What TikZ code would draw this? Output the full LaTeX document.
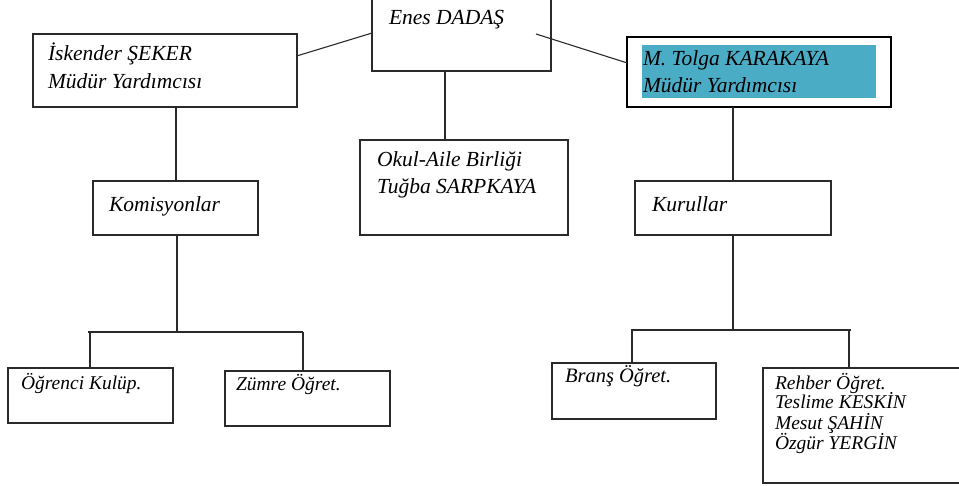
\documentclass[tikz,border=0pt]{standalone}
\usepackage{fontspec}
\setmainfont{Liberation Serif}
\usetikzlibrary{calc}
\definecolor{tealfill}{HTML}{4BACC6}
\definecolor{linegray}{HTML}{2A2A2A}
\newcommand\mytightlines{\lineskiplimit=-30pt\lineskip=0pt\relax}
\tikzset{
  box/.style={draw=linegray, line width=1.1pt, fill=white, inner sep=0pt, outer sep=0pt},
  thickbox/.style={draw=black, line width=2.2pt, fill=white, inner sep=0pt, outer sep=0pt},
  conn/.style={draw=linegray, line width=1.1pt},
  txt/.style={inner sep=0pt, outer sep=0pt, anchor=base west, align=left, font=\fontsize{21.5}{27}\selectfont\itshape\mytightlines},
  widetxt/.style={txt, font=\fontsize{21.5}{28.5}\selectfont\itshape\mytightlines},
  midtxt/.style={txt, font=\fontsize{20.5}{20}\selectfont\itshape\mytightlines},
  smalltxt/.style={txt, font=\fontsize{19.5}{20}\selectfont\itshape\mytightlines}
}
\begin{document}
\begin{tikzpicture}[x=1pt,y=-1pt]
\useasboundingbox (0,0) rectangle (959,486);
% boxes
\node[box, minimum width=179pt, minimum height=73pt] (enes) at (461.5,34.5) {};
\node[box, minimum width=264pt, minimum height=73pt] (isk) at (165,70.5) {};
\node[thickbox, minimum width=264pt, minimum height=70pt] (tolga) at (759,72) {};
\node[fill=tealfill, inner sep=0pt, minimum width=234pt, minimum height=53pt] (tolgafill) at (759,71.5) {};
\node[box, minimum width=208pt, minimum height=95pt] (okul) at (464,187.5) {};
\node[box, minimum width=165pt, minimum height=54pt] (komis) at (175.5,208) {};
\node[box, minimum width=196pt, minimum height=54pt] (kurul) at (733,208) {};
\node[box, minimum width=165pt, minimum height=55pt] (ogr) at (90.5,395.5) {};
\node[box, minimum width=165pt, minimum height=55pt] (zumre) at (307.5,398.5) {};
\node[box, minimum width=164pt, minimum height=56pt] (brans) at (634,391) {};
\node[box, minimum width=207pt, minimum height=115pt] (rehber) at (866.5,425.5) {};
% texts (base anchor = baseline of last line)
\node[txt] (tenes) at (389,25) {Enes DADAŞ};
\node[widetxt] (tisk) at (48,89) {İskender ŞEKER\\Müdür Yardımcısı};
\node[txt] (ttolga) at (643,93) {M. Tolga KARAKAYA\\Müdür Yardımcısı};
\node[txt] (tokul) at (377,194) {Okul-Aile Birliği\\Tuğba SARPKAYA};
\node[txt] (tkomis) at (109,212) {Komisyonlar};
\node[txt] (tkurul) at (652,212) {Kurullar};
\node[smalltxt] (togr) at (21,389) {Öğrenci Kulüp.};
\node[smalltxt] (tzumre) at (236,391) {Zümre Öğret.};
\node[midtxt] (tbrans) at (565,382) {Branş Öğret.};
\node[smalltxt] (trehber) at (775,449) {Rehber Öğret.\\Teslime KESKİN\\Mesut ŞAHİN\\Özgür YERGİN};
% connectors top
\draw[conn] ($(isk.north east)!0.3!(isk.south east)$) -- ($(enes.north west)!0.48!(enes.south west)$);
\draw[conn] ($(enes.north east)+(-15,36)$) -- ($(tolga.north west)!0.37!(tolga.south west)$);
\draw[conn] ($(enes.south west)+(73,0)$) coordinate (ea) -- (ea |- okul.north);
\draw[conn] ($(isk.south west)+(143,0)$) coordinate (ia) -- (ia |- komis.north);
\draw[conn] (kurul.north |- tolga.south) -- (kurul.north);
% left tree
\coordinate (lj) at (177,332);
\coordinate (lbarL) at (88,332);
\coordinate (lbarR) at (303,332);
\coordinate (lc1) at (90,332);
\draw[conn] (komis.south -| lj) -- (lj);
\draw[conn] (lbarL) -- (lbarR);
\draw[conn] (lc1) -- (lc1 |- ogr.north);
\draw[conn] (lbarR) -- (lbarR |- zumre.north);
% right tree
\coordinate (rj) at (733,330);
\coordinate (rbarL) at (631,330);
\coordinate (rbarR) at (851,330);
\coordinate (rc1) at (632,330);
\coordinate (rc2) at (849,330);
\draw[conn] (kurul.south) -- (rj);
\draw[conn] (rbarL) -- (rbarR);
\draw[conn] (rc1) -- (rc1 |- brans.north);
\draw[conn] (rc2) -- (rc2 |- rehber.north);
\end{tikzpicture}
\end{document}
